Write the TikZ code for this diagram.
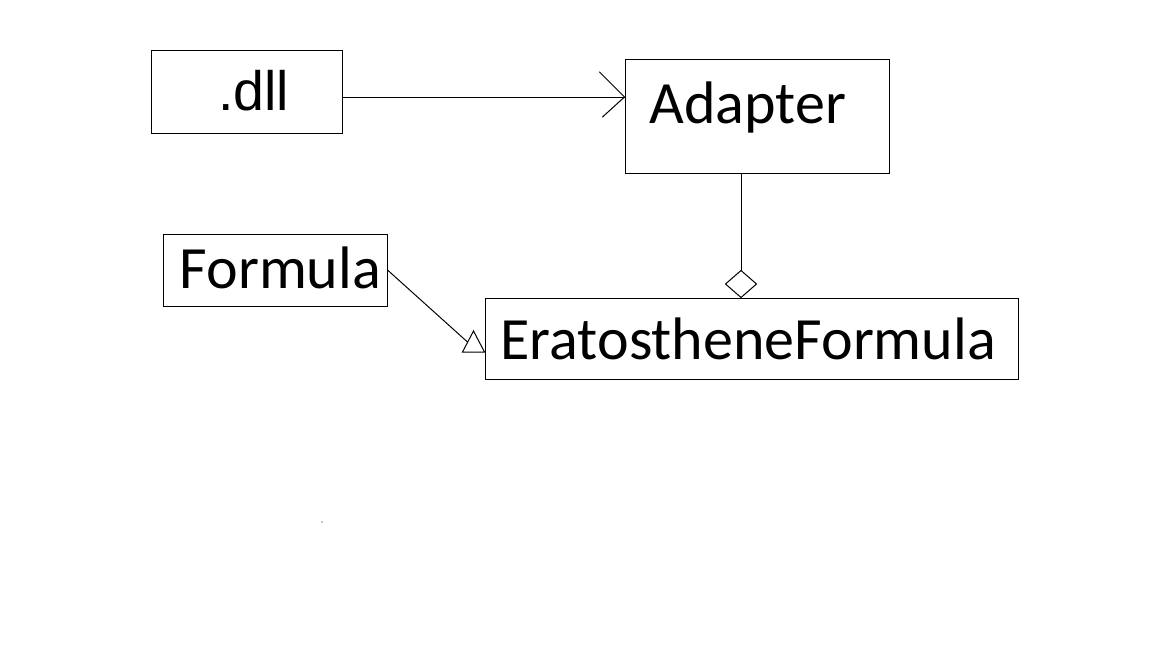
\documentclass[tikz,border=0pt]{standalone}
\usepackage{fontspec}
\newfontfamily\calfont{Carlito}
\newfontfamily\arialfont{Liberation Sans}
\begin{document}
\begin{tikzpicture}[x=1pt,y=-1pt,
  box/.style={draw, line width=1pt, inner sep=0pt},
  lbl/.style={anchor=base west, inner sep=0pt, font=\calfont\fontsize{60}{60}\selectfont},
  conn/.style={line width=1pt, line cap=round, line join=miter}]
\useasboundingbox[fill=white] (0,0) rectangle (1152,648);
% boxes
\node[box, minimum width=191pt, minimum height=83pt] (dll) at (246.5,91.5) {};
\node[box, minimum width=264pt, minimum height=114pt] (adapter) at (757,116) {};
\node[box, minimum width=224pt, minimum height=72pt] (formula) at (275,270) {};
\node[box, minimum width=533pt, minimum height=81pt] (erato) at (751.5,338.5) {};
% labels
\node[anchor=base west, inner sep=0pt, font=\arialfont\fontsize{55.5}{55.5}\selectfont] (tdll) at (218,110) {.dll};
\node[lbl] (tadapter) at (649.5,123) {Adapter};
\node[lbl] (tformula) at (179.5,288) {Formula};
\node[lbl] (terato) at (500.5,359) {EratostheneFormula};
% .dll -> Adapter
\coordinate (tip) at ([yshift=19pt]adapter.west);
\draw[conn] (dll.east |- tip) -- (tip);
\draw[conn] (tip) ++(-25,-25) -- (tip) -- ++(-22,20);
% Adapter <>- EratostheneFormula
\coordinate (dbot) at ([xshift=-10.5pt]erato.north);
\coordinate (dtop) at ([yshift=27pt]dbot);
\draw[conn] (adapter.south -| dtop) -- (dtop);
\draw[conn, fill=white] (dbot) -- ++(-15.5,-13.5) -- (dtop) -- ++(15.5,13.5) -- cycle;
% Formula <|- EratostheneFormula
\coordinate (tbr) at ([yshift=-13.5pt]erato.west);
\coordinate (tbl) at ([xshift=-22pt]tbr);
\coordinate (tapex) at ([xshift=-11pt,yshift=21pt]tbr);
\coordinate (tend) at ([xshift=-17pt,yshift=10pt]tbr);
\draw[conn] (formula.east) -- (tend);
\draw[conn] (tbr) -- (tbl) -- (tapex) -- cycle;
% stray dot
\fill (322,522) circle (0.6pt);
\end{tikzpicture}
\end{document}
